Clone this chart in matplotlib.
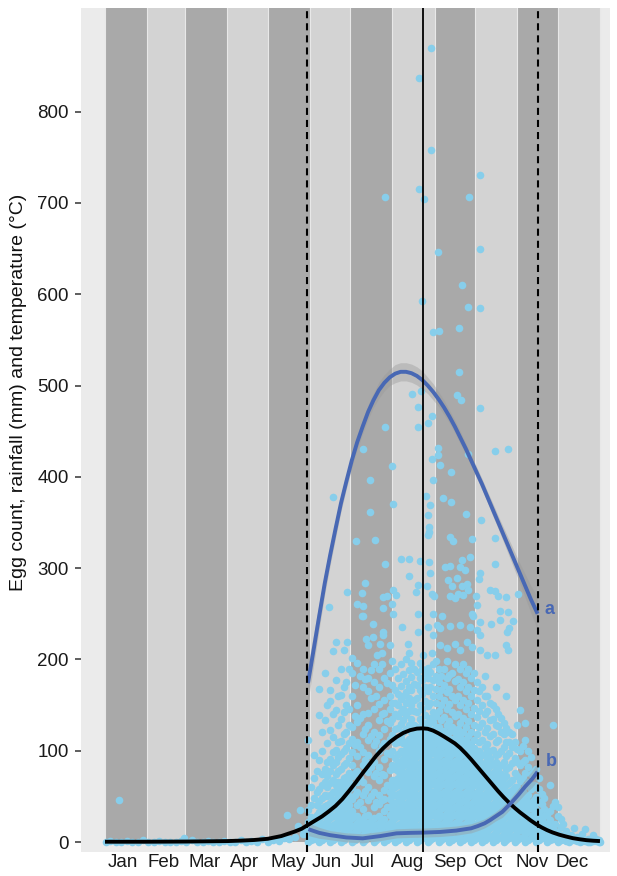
import matplotlib
matplotlib.use("Agg")
import matplotlib.pyplot as plt

plt.rcParams['font.family'] = ['Liberation Sans', 'DejaVu Sans']

# ---------------- data ----------------
month_labels = ["Jan", "Feb", "Mar", "Apr", "May", "Jun", "Jul", "Aug", "Sep", "Oct", "Nov", "Dec"]
month_ticks = [13.3, 43.5, 73.7, 103.2, 134.9, 163.7, 190.2, 223.4, 254.4, 282.4, 314.8, 344.3]
month_starts = [0, 31, 59, 90, 120, 151, 181, 212, 243, 273, 304, 334, 365]

# vertical reference lines (day of year)
season_start = 149.2
season_peak = 234.2
season_end = 319.0

# temperature-like black curve
t_days = [0, 30, 60, 90, 100, 110, 120, 130, 140, 145, 150, 155, 160, 165, 170, 175, 180, 185, 190,
          195, 200, 205, 210, 215, 220, 225, 230, 234, 238, 242, 246, 250, 254, 258, 262, 266, 270,
          274, 278, 282, 286, 290, 294, 298, 302, 306, 310, 314, 318, 322, 326, 330, 335, 340, 345,
          350, 355, 360, 365]
t_vals = [0.3, 0.3, 0.5, 1, 1.5, 2.2, 3.5, 6.5, 11.5, 14.5, 19, 23.5, 28, 33.5, 39.5, 47, 56, 65.5, 75.5,
          85, 94.5, 102.5, 109.5, 115, 119.5, 122.5, 124.2, 124.5, 124, 122, 119, 115.5, 111.8, 108, 103, 97, 90.5,
          83.5, 76.5, 69.5, 62.5, 55.5, 49, 43, 37.5, 32.5, 28, 23.5, 19.5, 16, 13, 10.5, 8, 6, 4.2,
          3, 2, 1.4, 1]

# smooth a
a_days = [149.7, 154, 158, 162, 166, 170, 174, 178, 182, 186, 190, 194, 198, 202, 206, 210, 214, 218,
          222, 226, 230, 234, 238, 242, 246, 250, 254, 258, 262, 266, 270, 274, 278, 282, 286, 290, 294,
          298, 302, 306, 310, 314, 319]
a_vals = [174, 212, 248, 283, 314, 343, 371, 395, 418, 438, 455, 471, 484, 495, 503, 509, 513, 515,
          515, 513.5, 510.5, 506, 500, 493, 485, 476, 466, 455, 443, 431, 418, 405, 392, 378, 364, 350, 336,
          322, 308, 294, 280, 266, 250]
a_se = [20, 17, 14, 12, 11, 10, 9, 8, 8, 8, 8, 8, 8, 9, 9, 9, 10, 10,
        10, 10, 10, 10, 9, 9, 8, 8, 7, 7, 7, 6, 6, 6, 6, 6, 7, 7, 8,
        9, 10, 11, 13, 15, 18]

# smooth b
b_days = [150, 158, 166, 178, 190, 203, 215, 225, 235, 247, 259, 270, 275, 280, 284, 288, 293, 299, 305, 310, 315, 319]
b_vals = [14, 10, 7.5, 5, 4, 6.5, 9.5, 10, 10.3, 11, 12.5, 15, 17.5, 20.5, 24, 28, 33, 42, 52, 61, 69, 77]
b_se = [7, 6, 5, 5, 5, 5, 5, 5, 5, 5, 5, 5, 5, 5, 5, 5, 6, 6, 7, 8, 9, 10]

# egg counts before the season
early_days = [1, 4, 8, 10, 12, 16, 20, 24, 28, 32, 36, 40, 44, 48, 52, 56, 58, 60, 64, 68, 72, 76, 80,
              84, 88, 92, 96, 100, 104, 108, 112, 116, 120, 124, 128, 132, 134, 136, 140, 142, 144, 146, 147]
early_eggs = [0, 1, 0, 46, 0, 1, 0, 0, 2, 0, 0, 1, 0, 0, 0, 1, 4, 0, 2, 0, 0, 1, 0,
              0, 1, 0, 0, 2, 0, 1, 0, 3, 0, 2, 1, 4, 30, 3, 6, 18, 35, 9, 12]

# egg counts during the season, by day (day, counts on that day)
jun_cols = [
    (150, [0, 8, 15, 22, 35, 112]),
    (152, [2, 10, 18, 27, 40, 60]),
    (154, [3, 11, 19, 26, 48, 70, 95]),
    (156, [6, 14, 22, 30, 41, 55, 78]),
    (158, [0, 8, 16, 25, 33, 45, 58, 90, 139, 168]),
    (160, [2, 10, 19, 28, 37, 48, 62, 75, 100, 120]),
    (162, [4, 12, 21, 30, 39, 52, 66, 80, 134, 185]),
    (164, [6, 14, 23, 32, 41, 50, 60, 72, 88, 108, 150]),
    (166, [0, 9, 17, 26, 35, 43, 51, 65, 78, 91, 123, 154, 166]),
    (168, [2, 11, 19, 28, 37, 46, 55, 68, 84, 99, 115, 140]),
    (170, [4, 12, 21, 30, 38, 47, 56, 62, 74, 88, 101, 145, 177]),
    (172, [6, 15, 23, 32, 41, 50, 58, 66, 78, 93, 110, 128, 160]),
    (174, [0, 8, 17, 25, 34, 42, 51, 59, 66, 80, 96, 111, 135, 161, 190]),
    (176, [2, 11, 19, 28, 37, 45, 54, 62, 70, 84, 100, 118, 142, 170]),
    (178, [5, 13, 22, 30, 38, 47, 55, 63, 71, 86, 103, 120, 150, 175]),
    (180, [6, 15, 23, 32, 41, 50, 58, 66, 76, 92, 108, 128, 146, 190]),
]
jul_cols = [
    (182, [0, 9, 17, 26, 34, 47, 60, 72, 84, 99, 113, 126, 160, 185]),
    (184, [2, 11, 19, 28, 52, 76, 106, 138, 172]),
    (186, [4, 12, 21, 29, 40, 55, 66, 78, 94, 110, 131, 150, 196]),
    (188, [6, 15, 23, 44, 70, 104, 136, 182]),
    (190, [0, 8, 17, 25, 36, 51, 66, 84, 99, 118, 140, 170, 190]),
    (192, [2, 11, 19, 29, 56, 90, 124, 178]),
    (194, [5, 13, 21, 30, 46, 60, 77, 95, 112, 128, 141, 165, 180]),
    (196, [6, 15, 23, 50, 82, 116, 158, 188]),
    (198, [0, 9, 17, 26, 38, 55, 72, 88, 106, 121, 146, 175, 195]),
    (200, [2, 11, 19, 44, 76, 111, 160]),
    (202, [4, 12, 21, 29, 42, 52, 68, 82, 100, 117, 134, 151, 170, 190]),
    (204, [6, 15, 23, 46, 74, 105, 140, 195]),
    (206, [0, 8, 17, 25, 34, 47, 57, 73, 91, 108, 124, 141, 156, 180]),
    (208, [2, 11, 19, 38, 62, 97, 132, 174]),
    (210, [4, 13, 21, 30, 38, 47, 55, 62, 79, 96, 113, 130, 146, 160, 185]),
    (212, [6, 15, 23, 32, 41, 50, 58, 68, 84, 100, 117, 135, 152, 172, 198]),
]
aug_cols = [
    (214, [0, 9, 17, 26, 34, 43, 51, 60, 68, 80, 92, 108, 124, 140, 152, 166, 190]),
    (216, [2, 11, 19, 28, 36, 45, 53, 62, 70, 78, 86, 96, 110, 125, 138, 150, 162, 180]),
    (218, [4, 12, 21, 29, 38, 46, 55, 63, 72, 80, 89, 100, 114, 129, 142, 157, 171, 195]),
    (220, [6, 15, 23, 32, 40, 49, 57, 66, 74, 83, 91, 99, 108, 120, 134, 146, 160, 184]),
    (222, [0, 8, 17, 25, 34, 42, 51, 59, 68, 76, 85, 93, 102, 110, 124, 139, 152, 164, 176, 200]),
    (224, [2, 11, 19, 28, 36, 45, 53, 62, 70, 79, 87, 96, 104, 113, 128, 144, 158, 170, 188]),
    (226, [4, 13, 21, 30, 38, 47, 55, 64, 72, 81, 89, 98, 106, 114, 121, 135, 150, 166, 181, 196]),
    (228, [6, 15, 23, 32, 40, 49, 57, 66, 74, 83, 91, 100, 108, 117, 128, 143, 156, 173, 190]),
    (230, [0, 9, 17, 26, 34, 43, 51, 60, 68, 77, 85, 94, 102, 111, 119, 126, 142, 158, 172, 186]),
    (232, [2, 11, 19, 28, 36, 45, 53, 62, 70, 79, 87, 96, 104, 113, 121, 135, 150, 166, 180, 196]),
    (234, [4, 12, 21, 29, 38, 46, 55, 63, 72, 80, 89, 97, 106, 114, 123, 131, 146, 162, 177, 190]),
    (236, [6, 15, 23, 32, 40, 49, 57, 66, 74, 83, 91, 100, 108, 117, 125, 139, 154, 170, 185]),
    (238, [0, 8, 17, 25, 34, 42, 51, 59, 68, 76, 85, 93, 102, 110, 119, 127, 131, 149, 165, 180, 191]),
    (240, [2, 11, 19, 28, 36, 45, 53, 62, 70, 79, 87, 96, 104, 113, 121, 136, 152, 170, 186]),
    (242, [4, 13, 21, 30, 38, 47, 55, 64, 72, 81, 89, 98, 106, 115, 123, 131, 142, 160, 177, 195]),
]
sep_cols = [
    (244, [6, 15, 23, 32, 40, 49, 57, 66, 74, 83, 91, 100, 108, 117, 126, 138, 152, 168, 182, 198]),
    (246, [0, 9, 17, 26, 34, 43, 51, 60, 68, 77, 85, 94, 102, 111, 119, 126, 144, 160, 175, 190]),
    (248, [2, 11, 19, 28, 36, 45, 53, 62, 70, 79, 87, 96, 104, 113, 122, 134, 150, 166, 182]),
    (250, [4, 12, 21, 29, 38, 46, 55, 63, 72, 80, 89, 97, 106, 114, 122, 137, 155, 172, 190]),
    (252, [6, 15, 23, 32, 40, 49, 57, 66, 74, 83, 91, 100, 108, 117, 128, 146, 164, 180, 198]),
    (254, [0, 8, 17, 25, 34, 42, 51, 59, 68, 76, 85, 93, 102, 110, 120, 133, 151, 168, 183]),
    (256, [2, 11, 19, 28, 36, 45, 53, 62, 70, 79, 87, 96, 104, 113, 126, 142, 160, 185]),
    (258, [4, 13, 21, 30, 38, 47, 55, 64, 72, 81, 89, 98, 106, 114, 120, 138, 156, 176, 195]),
    (260, [6, 15, 23, 32, 40, 49, 57, 66, 74, 83, 91, 100, 108, 116, 124, 140, 160, 178]),
    (262, [0, 9, 17, 26, 34, 43, 51, 60, 68, 77, 85, 94, 102, 110, 115, 130, 150, 170, 190]),
    (264, [2, 11, 19, 28, 36, 45, 53, 62, 70, 79, 87, 96, 104, 112, 120, 136, 155, 175, 195]),
    (266, [4, 12, 21, 29, 38, 46, 55, 63, 72, 80, 89, 97, 105, 110, 126, 146, 165, 185]),
    (268, [6, 15, 23, 32, 40, 49, 57, 66, 74, 83, 91, 100, 108, 116, 132, 152, 170, 190]),
    (270, [0, 8, 17, 25, 34, 42, 51, 59, 68, 76, 85, 93, 101, 105, 121, 140, 160, 180]),
    (272, [2, 11, 19, 28, 36, 45, 53, 62, 70, 79, 87, 95, 103, 112, 128, 147, 166, 185]),
]
oct_cols = [
    (274, [4, 13, 21, 30, 38, 47, 55, 64, 72, 81, 89, 97, 100, 118, 137, 156, 175]),
    (276, [6, 15, 23, 32, 40, 49, 57, 66, 74, 83, 91, 100, 109, 126, 144, 165]),
    (278, [0, 9, 17, 26, 34, 43, 51, 60, 68, 77, 85, 95, 112, 130, 150, 170]),
    (280, [2, 11, 19, 28, 36, 45, 53, 62, 70, 79, 87, 96, 104, 120, 140, 160, 182]),
    (282, [4, 12, 21, 29, 38, 46, 55, 63, 72, 80, 90, 107, 125, 143, 160]),
    (284, [6, 15, 23, 32, 40, 49, 57, 66, 74, 83, 92, 100, 116, 134, 152]),
    (286, [0, 8, 17, 25, 34, 42, 51, 59, 68, 76, 85, 101, 118, 135, 150]),
    (288, [2, 11, 19, 28, 36, 45, 53, 62, 70, 79, 88, 95, 110, 128, 146, 170]),
    (290, [4, 13, 21, 30, 38, 47, 55, 64, 72, 80, 96, 112, 127, 140]),
    (292, [6, 15, 23, 32, 40, 49, 57, 66, 75, 84, 100, 120, 136]),
    (294, [0, 9, 17, 26, 34, 43, 51, 60, 70, 88, 104, 118, 130]),
    (296, [2, 11, 19, 28, 36, 45, 53, 62, 72, 80, 94, 110, 125, 160]),
    (298, [4, 12, 21, 29, 38, 46, 55, 65, 82, 98, 110, 120]),
    (300, [6, 15, 23, 32, 40, 49, 57, 68, 86, 104, 118]),
    (302, [0, 8, 17, 25, 34, 42, 51, 60, 76, 92, 110]),
]
nov_cols = [
    (304, [2, 11, 19, 28, 36, 45, 53, 60, 72, 88, 102, 128]),
    (306, [4, 13, 21, 30, 38, 46, 50, 67, 84, 100, 145]),
    (308, [6, 15, 23, 32, 40, 48, 55, 70, 88, 105]),
    (310, [0, 9, 17, 26, 34, 42, 45, 61, 76, 90, 112, 130]),
    (312, [2, 11, 19, 28, 36, 44, 52, 66, 82, 100]),
    (314, [4, 12, 21, 29, 37, 40, 58, 75, 93]),
    (316, [6, 15, 23, 31, 39, 46, 62, 78]),
    (318, [0, 8, 17, 25, 32, 35, 49, 60, 80]),
    (320, [2, 10, 18, 26, 33, 44, 58, 70]),
    (322, [4, 12, 19, 25, 42, 53]),
    (324, [6, 14, 21, 28, 36, 48]),
    (326, [0, 7, 14, 18, 30]),
    (328, [2, 9, 16, 24, 34, 62]),
    (330, [3, 10, 14, 39, 128]),
    (332, [5, 12, 20, 44]),
]
dec_cols = [
    (334, [0, 6, 10, 29, 38]),
    (336, [2, 8, 16, 25]),
    (338, [3, 8, 20]),
    (340, [1, 4, 12]),
    (342, [0, 5]),
    (344, [2, 8]),
    (346, [2, 15]),
    (348, [1, 5]),
    (350, [0, 3]),
    (352, [1, 9]),
    (354, [1, 14]),
    (356, [0, 3]),
    (358, [0, 2]),
    (360, [1, 8]),
    (362, [1, 3]),
    (364, [0, 2]),
    (365, [0]),
]

# high counts
peak_days = [240.4, 231.8, 240.4, 276.5, 231.8, 206.5, 235.2, 268.4, 245.3, 276.5, 263.5, 233.5, 267.5,
             276.5, 261.3, 242.1, 246.5, 261.3, 226.4, 233.2, 259.3, 262.5, 231, 276.5, 241.4, 238.4,
             206.5, 231, 190.5, 287.6, 297.4, 245.3, 245.3, 241.4, 247.3, 267.9, 211.4, 255.1, 195.4,
             242.1, 168.3, 236.5, 249.2, 255.1, 212.4, 239.4, 195.4, 238.4, 266.5, 277.3, 238.7, 239.1,
             238.4, 254.4, 256.4, 270.4, 287.6, 185.3, 199.3, 218.3, 224.4, 232.3, 238.7, 206.5, 250.7,
             254.4, 263, 269.2, 265.5, 261.8, 287.6, 276.5, 275.6, 224.4, 239.4, 191.9, 189.3, 178.2,
             165.4, 212.6, 214.6, 230.6, 229.3, 237.2, 240.9, 242.6, 253.2, 255.7, 259.3, 263, 266.7,
             260.5, 254.4, 258.1, 263.8, 267.9, 283.9, 287.6, 290, 295.7, 304.3, 273.6, 274.1, 204.8,
             207.7, 211.4, 205.2, 185.5, 190.5, 189.3, 190, 212.6, 197.4, 231, 241.6, 248.3, 218.8, 231,
             205.2, 205.2, 238.4, 241.6, 244.6, 247, 254.4, 261.8, 269.2, 274.1, 276.5, 271.6, 270.4,
             276.5, 284.6, 291.3, 297.4, 291.3, 301.1, 296.2, 298.1, 170.3, 178.2, 168.3, 176.2, 192.5,
             197.8, 194.2, 202.8, 210.2, 223.7, 224.4, 234.7, 240.9, 247, 252, 258.1, 261.8, 266.7,
             270.4, 276.5, 281.5, 295.7, 297.4, 287.6, 181.9, 200.4, 204.1]
peak_eggs = [870, 837, 758, 731, 715, 706, 704, 707, 646, 650, 610, 593, 586,
             585, 563, 559, 560, 515, 491, 494, 490, 484, 477, 475, 467, 459,
             455, 455, 430, 428, 430, 432, 424, 419, 413, 425, 412, 405, 397,
             396, 378, 379, 377, 372, 370, 369, 361, 358, 359, 353, 345, 340,
             336, 334, 330, 332, 333, 330, 331, 310, 310, 308, 307, 305, 301,
             302, 309, 312, 298, 301, 304, 295, 288, 291, 295, 284, 273, 274,
             257, 276, 270, 281, 274, 280, 272, 269, 287, 280, 289, 280, 283,
             272, 269, 267, 270, 276, 276, 275, 269, 268, 272, 269, 260, 268,
             269, 261, 256, 261, 258, 248, 247, 250, 239, 250, 250, 248, 236, 230,
             230, 227, 236, 227, 238, 234, 237, 238, 236, 232, 227, 247, 250,
             241, 239, 253, 252, 243, 242, 230, 234, 219, 219, 209, 210, 222,
             225, 216, 217, 216, 217, 207, 205, 207, 216, 212, 217, 210, 219,
             214, 210, 205, 216, 210, 205, 201, 205, 207]

# ---------------- figure ----------------
W, H = 617, 876
fig = plt.figure(figsize=(W / 100, H / 100), dpi=100)
ax = fig.add_axes([81 / W, 1 - 852 / H, 529 / W, 844 / H])
ax.set_facecolor('#EBEBEB')
for s in ax.spines.values():
    s.set_visible(False)

x_lo, x_hi = -17.7, 372.4
y_lo, y_hi = -10.95, 913.5
ax.set_xlim(x_lo, x_hi)
ax.set_ylim(y_lo, y_hi)

band_bottom = (0 - y_lo) / (y_hi - y_lo)
for i in range(12):
    col = '#A9A9A9' if i % 2 == 0 else '#D3D3D3'
    ax.axvspan(month_starts[i], month_starts[i + 1], ymin=band_bottom, ymax=1,
               facecolor=col, edgecolor='none', zorder=0.5)
for d in month_starts:
    ax.axvline(d, ymin=band_bottom, ymax=1, color='#E8E8E8', lw=0.8, zorder=0.6)

# points
xs, ys = [], []
xs += early_days
ys += early_eggs
for cols in (jun_cols, jul_cols, aug_cols, sep_cols, oct_cols, nov_cols, dec_cols):
    for d, vals in cols:
        xs += [d] * len(vals)
        ys += vals
xs += peak_days
ys += peak_eggs
ax.scatter(xs, ys, s=30, c='#87CEEB', linewidths=0, zorder=2)

blue = '#4868B4'
ax.fill_between(a_days, [v - e for v, e in zip(a_vals, a_se)], [v + e for v, e in zip(a_vals, a_se)],
                color='#999999', alpha=0.4, lw=0, zorder=3)
ax.fill_between(b_days, [v - e for v, e in zip(b_vals, b_se)], [v + e for v, e in zip(b_vals, b_se)],
                color='#999999', alpha=0.4, lw=0, zorder=3)

ax.plot(t_days, t_vals, color='black', lw=2.8, zorder=4, solid_capstyle='butt', solid_joinstyle='round')
ax.plot(a_days, a_vals, color=blue, lw=2.8, zorder=5, solid_capstyle='butt', solid_joinstyle='round')
ax.plot(b_days, b_vals, color=blue, lw=2.8, zorder=5, solid_capstyle='butt', solid_joinstyle='round')

ax.axvline(season_start, color='black', lw=1.5, ls=(0, (3.4, 2.4)), zorder=6)
ax.axvline(season_end, color='black', lw=1.5, ls=(0, (3.4, 2.4)), zorder=6)
ax.axvline(season_peak, color='black', lw=1.3, zorder=6)

ax.text(328.0, 255, 'a', color=blue, fontsize=13, fontweight='bold', ha='center', va='center', zorder=7)
ax.text(328.8, 88, 'b', color=blue, fontsize=13, fontweight='bold', ha='center', va='center', zorder=7)

ax.set_xticks(month_ticks)
ax.set_xticklabels(month_labels)
ax.set_yticks(list(range(0, 900, 100)))
ax.tick_params(axis='x', length=0, pad=1.5, labelsize=13.5, labelcolor='#1a1a1a')
ax.tick_params(axis='y', length=4.3, width=1.1, color='#333333', pad=4.5, labelsize=13.5,
               labelcolor='#1a1a1a')

fig.text(19 / W, 1 - 392 / H, 'Egg count, rainfall (mm) and temperature (\u00b0C)',
         rotation=90, ha='center', va='center', fontsize=14, color='#111111')

fig.savefig('out.png', dpi=100, facecolor='white')
